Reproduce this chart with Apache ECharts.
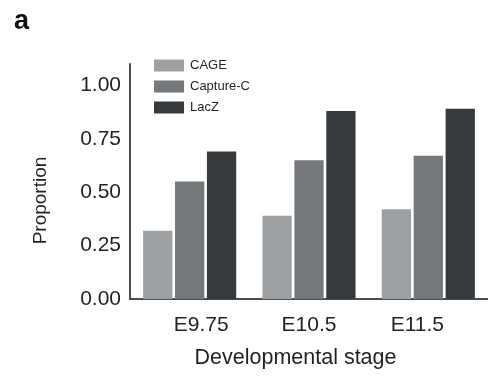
<!DOCTYPE html>
<html>
<head>
<meta charset="utf-8">
<script src="https://cdn.jsdelivr.net/npm/echarts@6/dist/echarts.min.js"></script>
<style>
  html, body { margin: 0; padding: 0; background: #fff; }
  #chart { width: 488px; height: 383px; }
</style>
</head>
<body>
<div id="chart"></div>
<script>
// Developmental stages on the x axis
const stages = ['E9.75', 'E10.5', 'E11.5'];
// Proportion of elements supported by each method
const cageValues = [0.32, 0.39, 0.42];
const captureCValues = [0.55, 0.65, 0.67];
const lacZValues = [0.69, 0.88, 0.89];
const seriesNames = ['CAGE', 'Capture-C', 'LacZ'];
const seriesColors = ['#9da1a4', '#76797c', '#373a3d'];

const textColor = '#231f20';
const axisColor = '#4d4d4d';
const fontFamily = 'Liberation Sans, Arial, sans-serif';

const chart = echarts.init(document.getElementById('chart'), null, { renderer: 'canvas' });

const labelRich = {
  l0: { fontSize: 21, color: textColor, fontFamily, padding: [0, 0, 0, 23] },
  l1: { fontSize: 21, color: textColor, fontFamily },
  l2: { fontSize: 21, color: textColor, fontFamily, padding: [0, 22, 0, 0] }
};

const values = [cageValues, captureCValues, lacZValues];

chart.setOption({
  animation: false,
  backgroundColor: '#ffffff',
  title: {
    text: 'a',
    left: 9,
    top: 3,
    textStyle: { fontSize: 27, fontWeight: 'bold', color: '#111', fontFamily }
  },
  legend: {
    orient: 'vertical',
    left: 149,
    top: 54,
    itemWidth: 30,
    itemHeight: 12,
    itemGap: 8,
    icon: 'rect',
    data: seriesNames,
    textStyle: { fontSize: 13, color: textColor, fontFamily, padding: [0, 0, 0, 1] }
  },
  grid: { left: 130, top: 64, width: 360, bottom: 84, containLabel: false },
  xAxis: {
    type: 'category',
    data: stages,
    name: 'Developmental stage',
    nameLocation: 'middle',
    nameGap: 48,
    nameTextStyle: { fontSize: 21.5, color: textColor, fontFamily, padding: [0, 27, 0, 0] },
    axisLine: { show: true, lineStyle: { color: axisColor, width: 2 } },
    axisTick: { show: false },
    axisLabel: {
      margin: 16,
      formatter: (value, index) => `{l${index}|${value}}`,
      rich: labelRich
    }
  },
  yAxis: {
    type: 'value',
    min: 0,
    max: 1.1,
    interval: 0.25,
    name: 'Proportion',
    nameLocation: 'middle',
    nameGap: 80,
    nameTextStyle: { fontSize: 19, color: textColor, fontFamily, padding: [0, 38, 0, 0] },
    axisLine: { show: true, lineStyle: { color: axisColor, width: 2 } },
    axisTick: { show: false },
    splitLine: { show: false },
    axisLabel: {
      showMaxLabel: false,
      margin: 9,
      fontSize: 21,
      color: textColor,
      fontFamily,
      formatter: v => v.toFixed(2)
    }
  },
  series: seriesNames.map((name, i) => ({
    name,
    type: 'bar',
    data: values[i],
    barGap: '9%',
    barCategoryGap: '22%',
    itemStyle: { color: seriesColors[i] }
  }))
});
</script>
</body>
</html>
